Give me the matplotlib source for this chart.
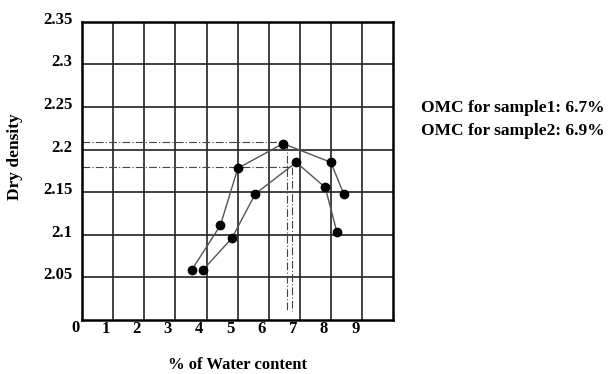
import matplotlib.pyplot as plt
import matplotlib.transforms as mtransforms
import numpy as np

# sample 1 (OMC 6.7%)
w1 = [3.77, 4.68, 5.24, 6.69, 8.22, 8.63]
d1 = [2.059, 2.111, 2.178, 2.207, 2.185, 2.148]
# sample 2 (OMC 6.9%)
w2 = [4.13, 5.05, 5.80, 7.11, 8.04, 8.41]
d2 = [2.059, 2.096, 2.148, 2.185, 2.1555, 2.1036]

# optimum moisture guide lines as drawn
omc_x = [6.81, 6.99]
omc_y = [2.209, 2.180]

xticks = [1, 2, 3, 4, 5, 6, 7, 8, 9]
yticks = [2.05, 2.1, 2.15, 2.2, 2.25, 2.3, 2.35]
ylabels = ['2.05', '2.1', '2.15', '2.2', '2.25', '2.3', '2.35']
notes = ['OMC for sample1: 6.7%', 'OMC for sample2: 6.9%']

plt.rcParams['font.family'] = 'Liberation Serif'
plt.rcParams['font.weight'] = 'bold'
plt.rcParams['axes.labelweight'] = 'bold'

fig = plt.figure(figsize=(6.08, 3.74), dpi=100)
ax = fig.add_axes([0.1349, 0.1444, 0.512, 0.7976])

x0, x1 = 0.25, 10.22
ax.set_xlim(x0, x1)
ax.set_ylim(2.0, 2.35)

# grid
for gx in np.linspace(x0, x1, 11)[1:-1]:
    ax.axvline(gx, color='#222222', lw=1.2, zorder=1)
for gy in yticks[:-1]:
    ax.axhline(gy, color='#222222', lw=1.2, zorder=1)

# dash-dot guides
for x, y in zip(omc_x, omc_y):
    ax.plot([x0, x], [y, y], color='#444444', lw=0.8, ls=(0, (7, 2, 1, 2)), zorder=2)
    ax.plot([x, x], [y, 2.0107], color='#444444', lw=0.8, ls=(0, (7, 2, 1, 2)), zorder=2)

ax.plot(w1, d1, color='#555555', lw=1.0, marker='o', ms=6, mfc='black', mec='black', zorder=3)
ax.plot(w2, d2, color='#555555', lw=1.0, marker='o', ms=6, mfc='black', mec='black', zorder=3)

for s in ax.spines.values():
    s.set_linewidth(1.8)
    s.set_color('black')

ax.set_xticks(xticks)
ax.set_xticklabels([str(t) for t in xticks])
ax.set_yticks(yticks)
ax.set_yticklabels(ylabels)
ax.tick_params(length=0, labelsize=12)
ax.tick_params(axis='x', pad=1)
ax.tick_params(axis='y', pad=7)
# y labels sit a little above their grid lines in the original
shift = mtransforms.ScaledTranslation(0, 0.04, fig.dpi_scale_trans)
for lab in ax.get_yticklabels():
    lab.set_transform(lab.get_transform() + shift)

ax.text(0.04, 2.0, '0', fontsize=12, ha='center', va='top',
        transform=ax.transData, clip_on=False)

ax.set_xlabel('% of Water content', fontsize=12, labelpad=14)
ax.set_ylabel('Dry density', fontsize=12.5)
ax.yaxis.set_label_coords(-0.19, 0.546)

fig.text(0.693, 0.71, notes[0], fontsize=12.5, va='center')
fig.text(0.693, 0.65, notes[1], fontsize=12.5, va='center')

plt.savefig('out.png', dpi=100)
